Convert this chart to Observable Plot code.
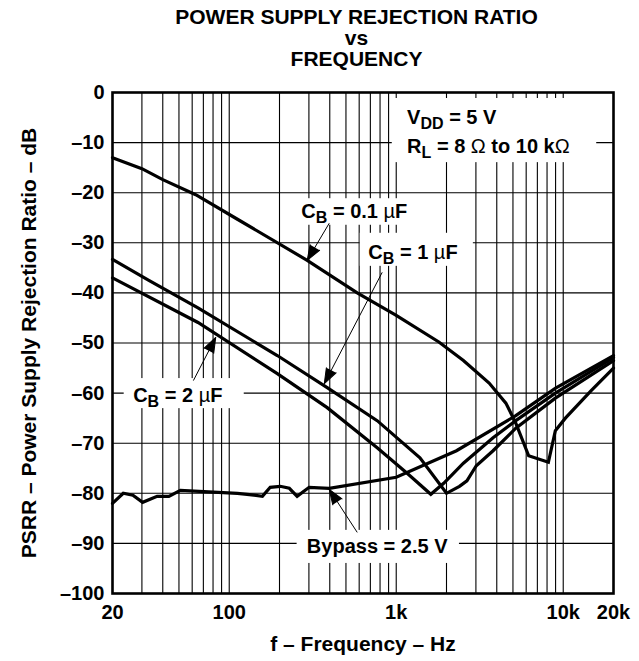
<!DOCTYPE html>
<html><head><meta charset="utf-8">
<script src="https://cdn.jsdelivr.net/npm/d3@7"></script>
<script src="https://cdn.jsdelivr.net/npm/@observablehq/plot@0.6"></script>
<style>
html,body{margin:0;padding:0;background:#fff;overflow:hidden}
#title{height:70px;box-sizing:border-box;padding-top:6px;padding-left:74px;width:639px;font-family:'Liberation Sans',Arial,Helvetica,sans-serif;font-weight:bold;font-size:21px;line-height:21px;text-align:center;color:#000}
</style></head><body>
<div id="title"><div>POWER SUPPLY REJECTION RATIO</div><div>vs</div><div>FREQUENCY</div></div>
<div id="chart"></div>
<script>
// ---- data ----
const cb01Freq = [20, 30, 40, 63, 112, 293, 584, 1000, 1800, 2525, 3600, 4535, 5200, 6210, 8150, 8970, 10300, 14700, 20000];
const cb01Db   = [-13, -15.2, -17.4, -20.4, -25.3, -33.5, -40, -44.5, -49.8, -53.5, -58, -62, -66, -72.5, -73.8, -67.5, -65, -59.5, -55];

const cb1Freq = [20, 33, 65, 194, 386, 769, 1387, 2000, 2391, 2650, 3015, 3800, 5200, 8970, 20000];
const cb1Db   = [-33.3, -37.5, -43, -52.5, -58.9, -65.5, -72.9, -80, -78.6, -77.5, -74.5, -71.5, -67, -61, -53.5];

const cb2Freq = [20, 65, 194, 386, 769, 1162, 1611, 1924, 2525, 3800, 5200, 8970, 20000];
const cb2Db   = [-37, -45.9, -56.1, -62.9, -70.9, -76, -80.2, -78, -74, -68.9, -65.5, -60, -52.9];

const bypassFreq = [20, 23.2, 26.5, 30.3, 37, 43.5, 51, 112, 128, 158, 176, 202, 229, 255, 301, 397, 1000, 2295, 5200, 9000, 20000];
const bypassDb   = [-82, -80, -80.4, -81.8, -80.6, -80.6, -79.4, -80, -80.2, -80.6, -78.8, -78.6, -79, -80.6, -78.8, -79, -76.8, -71.5, -64.5, -59, -52.5];

const seriesNames = ["CB = 0.1 µF", "CB = 1 µF", "CB = 2 µF", "Bypass = 2.5 V"];
const seriesFreq = [cb01Freq, cb1Freq, cb2Freq, bypassFreq];
const seriesDb = [cb01Db, cb1Db, cb2Db, bypassDb];

const xTickVals = [20, 100, 1000, 10000, 20000];
const xTickLabels = ["20", "100", "1k", "10k", "20k"];
const yTickVals = [0, -10, -20, -30, -40, -50, -60, -70, -80, -90, -100];
const xGridVals = [20, 30, 40, 50, 60, 70, 80, 90, 100, 200, 300, 400, 500, 600, 700, 800, 900,
  1000, 2000, 3000, 4000, 5000, 6000, 7000, 8000, 9000, 10000, 20000];
const yGridVals = [-10, -20, -30, -40, -50, -60, -70, -80, -90];

const xLabel = "f – Frequency – Hz";
const yLabel = "PSRR – Power Supply Rejection Ratio – dB";

// annotations: text, anchor point (Hz, dB)
const noteText = ["C_{B} = 0.1 µF", "C_{B} = 1 µF", "C_{B} = 2 µF", "Bypass = 2.5 V", "V_{DD} = 5 V", "R_{L} = 8 Ω to 10 kΩ"];
const noteF = [561, 1260, 49.2, 769, 1162, 1162];
const noteDb = [-25.1, -33.3, -61.7, -92, -6.2, -12];
const noteAnchor = ["middle", "middle", "middle", "middle", "start", "start"];
// white label boxes
const boxF1 = [248, 609, 23.5, 255, 947];
const boxF2 = [1210, 2896, 123, 2391, 15870];
const boxDb1 = [-21.2, -28.1, -57.1, -87.4, -1.2];
const boxDb2 = [-26.5, -34.7, -63.1, -94, -14];
// arrows: tail -> tip
const arrowF1 = [397, 824, 61, 584];
const arrowDb1 = [-26.1, -35.9, -57.5, -87.8];
const arrowF2 = [293, 371, 83, 397];
const arrowDb2 = [-33.5, -58.1, -48.9, -79.2];

// ---- build tables ----
const rows = seriesNames.flatMap((name, k) => seriesFreq[k].map((f, i) => ({series: name, f, db: seriesDb[k][i]})));
const notes = noteText.map((t, i) => ({t, f: noteF[i], db: noteDb[i], a: noteAnchor[i]}));
const boxes = boxF1.map((f1, i) => ({f1, f2: boxF2[i], d1: boxDb1[i], d2: boxDb2[i]}));
const W = 639, H = 591, mt = 22, mb = 68, ml = 112, mr = 26;
const px = d3.scaleLog([20, 20000], [ml, W - mr]);
const py = d3.scaleLinear([-100, 0], [H - mb, mt]);
const arrows = arrowF1.map((f1, i) => {
  const dx = px(arrowF2[i]) - px(f1), dy = py(arrowDb2[i]) - py(arrowDb1[i]);
  const len = Math.hypot(dx, dy);
  return {f1, d1: arrowDb1[i], f2: arrowF2[i], d2: arrowDb2[i], angle: Math.atan2(dx / len, -dy / len) * 180 / Math.PI};
});
const labelOf = new Map(xTickVals.map((v, i) => [v, xTickLabels[i]]));

const font = "'Liberation Sans', Arial, Helvetica, sans-serif";
const chart = Plot.plot({
  width: W, height: H,
  marginTop: mt, marginBottom: mb, marginLeft: ml, marginRight: mr,
  style: {fontFamily: font, fontSize: "20px", fontWeight: "bold", background: "#fff", color: "#000", overflow: "visible"},
  x: {type: "log", domain: [20, 20000]},
  y: {domain: [-100, 0]},
  marks: [
    Plot.ruleX(xGridVals, {stroke: "#000", strokeWidth: 1.1}),
    Plot.ruleY(yGridVals, {stroke: "#000", strokeWidth: 1.1}),
    Plot.rect(boxes, {x1: "f1", x2: "f2", y1: "d1", y2: "d2", fill: "#fff"}),
    Plot.line(rows, {x: "f", y: "db", z: "series", stroke: "#000", strokeWidth: 3.2, strokeLinejoin: "miter", strokeMiterlimit: 3}),
    Plot.link(arrows, {x1: "f1", y1: "d1", x2: "f2", y2: "d2", stroke: "#000", strokeWidth: 1}),
    Plot.vector(arrows, {x: "f2", y: "d2", rotate: "angle", length: 15, r: 5.5, shape: "spike", anchor: "end", fill: "#000", stroke: "#000", strokeWidth: 1}),
    Plot.text(notes.filter(d => d.a === "middle"), {x: "f", y: "db", text: "t", textAnchor: "middle", lineAnchor: "bottom", fontSize: 20, fontWeight: "bold", fill: "#000"}),
    Plot.text(notes.filter(d => d.a === "start"), {x: "f", y: "db", text: "t", textAnchor: "start", lineAnchor: "bottom", fontSize: 20, fontWeight: "bold", fill: "#000"}),
    Plot.axisX({ticks: xTickVals, tickFormat: d => labelOf.get(d), tickSize: 0, tickPadding: 11, label: null, fontSize: 20, fontWeight: "bold"}),
    Plot.axisY({ticks: yTickVals, tickFormat: d => d === 0 ? "0" : "–" + Math.abs(d), tickSize: 0, tickPadding: 8, label: null, fontSize: 20, fontWeight: "bold"}),
    Plot.text([xLabel], {frameAnchor: "bottom", dy: 51, textAnchor: "middle", lineAnchor: "middle", fontSize: 21, fontWeight: "bold"}),
    Plot.text([yLabel], {frameAnchor: "left", dx: -83, rotate: -90, textAnchor: "middle", lineAnchor: "middle", fontSize: 21, fontWeight: "bold"}),
    Plot.frame({stroke: "#000", strokeWidth: 2.6})
  ]
});
document.getElementById("chart").appendChild(chart);

// rich text: subscripts and symbol glyphs
const NS = "http://www.w3.org/2000/svg";
chart.querySelectorAll("text").forEach(el => {
  const s = el.textContent;
  if (!/_\{|µ|Ω/.test(s)) return;
  while (el.firstChild) el.removeChild(el.firstChild);
  const re = /_\{([^}]*)\}|([µΩ])|([^_µΩ]+)/g;
  let m, down = false;
  while ((m = re.exec(s))) {
    const t = document.createElementNS(NS, "tspan");
    if (m[1] != null) {
      t.textContent = m[1]; t.setAttribute("font-size", "16"); t.setAttribute("dy", "5"); down = true;
    } else {
      if (down) { t.setAttribute("dy", "-5"); down = false; }
      t.textContent = m[2] || m[3];
      if (m[2]) t.setAttribute("font-weight", "normal");
    }
    el.appendChild(t);
  }
});
</script></body></html>
